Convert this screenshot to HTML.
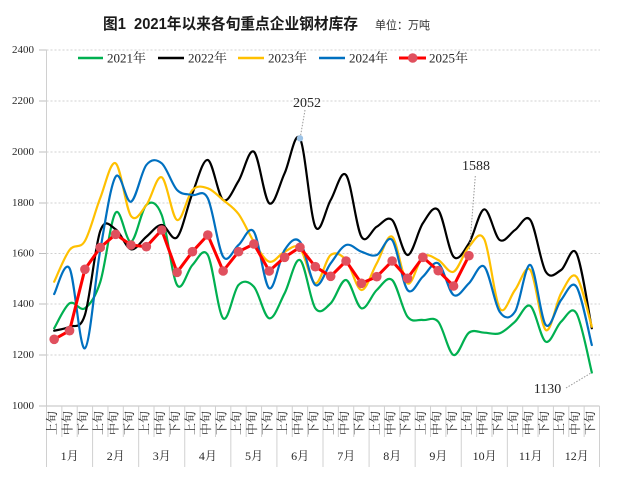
<!DOCTYPE html>
<html><head><meta charset="utf-8">
<style>
html,body{margin:0;padding:0;background:#fff;}
svg{display:block;}
.ax{font-family:"Liberation Serif","Noto Serif CJK SC",serif;fill:#262626;}
</style></head>
<body>
<svg id="c" width="622" height="477" viewBox="0 0 622 477" xmlns="http://www.w3.org/2000/svg">
<rect width="622" height="477" fill="#fff"/>
<g id="grid"></g>
<g id="seps"></g>
<g id="series"></g>

<text x="103" y="29" font-family="Liberation Sans,'Noto Sans CJK SC',sans-serif" font-weight="bold" font-size="15.5" fill="#1a1a1a" style="white-space:pre" textLength="255" lengthAdjust="spacingAndGlyphs">图1  2021年以来各旬重点企业钢材库存</text>
<text x="375" y="29" font-family="Liberation Sans,'Noto Sans CJK SC',sans-serif" font-size="11.5" fill="#333" textLength="55" lengthAdjust="spacingAndGlyphs">单位：万吨</text>

<!-- y labels -->
<g class="ax" font-size="11" text-anchor="end" dominant-baseline="central">
<text x="34" y="50">2400</text>
<text x="34" y="101">2200</text>
<text x="34" y="152">2000</text>
<text x="34" y="203">1800</text>
<text x="34" y="253.5">1600</text>
<text x="34" y="304">1400</text>
<text x="34" y="355">1200</text>
<text x="34" y="406">1000</text>
</g>

<!-- legend -->
<g stroke-width="2.5">
<line x1="78" y1="58" x2="103" y2="58" stroke="#00B050"/>
<line x1="158" y1="58" x2="184" y2="58" stroke="#000"/>
<line x1="238" y1="58" x2="264" y2="58" stroke="#FFC000"/>
<line x1="319" y1="58" x2="345" y2="58" stroke="#0070C0"/>
<line x1="399" y1="58" x2="426" y2="58" stroke="#FF0000" stroke-width="3"/>
</g>
<circle cx="412.7" cy="58" r="4.8" fill="#E0505E"/>
<g class="ax" font-size="13" dominant-baseline="central">
<text x="107" y="58">2021年</text>
<text x="188" y="58">2022年</text>
<text x="268" y="58">2023年</text>
<text x="349" y="58">2024年</text>
<text x="429" y="58">2025年</text>
</g>

<!-- annotations -->
<g class="ax" font-size="14" text-anchor="middle">
<text x="307" y="107">2052</text>
<text x="476" y="170">1588</text>
<text x="547.5" y="393">1130</text>
</g>
<g stroke="#999" stroke-width="1" stroke-dasharray="1.5,1.5" fill="none">
<line x1="305" y1="110" x2="300.5" y2="136"/>
<line x1="475.3" y1="176" x2="469.5" y2="250"/>
<line x1="566" y1="388" x2="591" y2="373"/>
</g>

<!-- category labels -->
<g class="ax" font-size="12" text-anchor="middle" dominant-baseline="central" fill="#333">
<text transform="translate(52.2,423) rotate(-90)">上旬</text>
<text transform="translate(67.6,423) rotate(-90)">中旬</text>
<text transform="translate(82.9,423) rotate(-90)">下旬</text>
<text transform="translate(98.3,423) rotate(-90)">上旬</text>
<text transform="translate(113.7,423) rotate(-90)">中旬</text>
<text transform="translate(129.0,423) rotate(-90)">下旬</text>
<text transform="translate(144.4,423) rotate(-90)">上旬</text>
<text transform="translate(159.8,423) rotate(-90)">中旬</text>
<text transform="translate(175.2,423) rotate(-90)">下旬</text>
<text transform="translate(190.5,423) rotate(-90)">上旬</text>
<text transform="translate(205.9,423) rotate(-90)">中旬</text>
<text transform="translate(221.3,423) rotate(-90)">下旬</text>
<text transform="translate(236.6,423) rotate(-90)">上旬</text>
<text transform="translate(252.0,423) rotate(-90)">中旬</text>
<text transform="translate(267.4,423) rotate(-90)">下旬</text>
<text transform="translate(282.7,423) rotate(-90)">上旬</text>
<text transform="translate(298.1,423) rotate(-90)">中旬</text>
<text transform="translate(313.5,423) rotate(-90)">下旬</text>
<text transform="translate(328.9,423) rotate(-90)">上旬</text>
<text transform="translate(344.2,423) rotate(-90)">中旬</text>
<text transform="translate(359.6,423) rotate(-90)">下旬</text>
<text transform="translate(375.0,423) rotate(-90)">上旬</text>
<text transform="translate(390.3,423) rotate(-90)">中旬</text>
<text transform="translate(405.7,423) rotate(-90)">下旬</text>
<text transform="translate(421.1,423) rotate(-90)">上旬</text>
<text transform="translate(436.4,423) rotate(-90)">中旬</text>
<text transform="translate(451.8,423) rotate(-90)">下旬</text>
<text transform="translate(467.2,423) rotate(-90)">上旬</text>
<text transform="translate(482.6,423) rotate(-90)">中旬</text>
<text transform="translate(497.9,423) rotate(-90)">下旬</text>
<text transform="translate(513.3,423) rotate(-90)">上旬</text>
<text transform="translate(528.7,423) rotate(-90)">中旬</text>
<text transform="translate(544.0,423) rotate(-90)">下旬</text>
<text transform="translate(559.4,423) rotate(-90)">上旬</text>
<text transform="translate(574.8,423) rotate(-90)">中旬</text>
<text transform="translate(590.1,423) rotate(-90)">下旬</text>
</g>

<!-- month labels -->
<g class="ax" font-size="12" text-anchor="middle" dominant-baseline="central" fill="#333">
<text x="69.6" y="456">1月</text>
<text x="115.7" y="456">2月</text>
<text x="161.8" y="456">3月</text>
<text x="207.9" y="456">4月</text>
<text x="254.0" y="456">5月</text>
<text x="300.1" y="456">6月</text>
<text x="346.2" y="456">7月</text>
<text x="392.3" y="456">8月</text>
<text x="438.4" y="456">9月</text>
<text x="484.6" y="456">10月</text>
<text x="530.7" y="456">11月</text>
<text x="576.8" y="456">12月</text>
</g>
</svg>
<script>
(function(){
var NS="http://www.w3.org/2000/svg";
function el(parent,tag,attrs){var e=document.createElementNS(NS,tag);for(var k in attrs)e.setAttribute(k,attrs[k]);parent.appendChild(e);return e;}
var L=46.5,W=553,step=W/36;
function X(i){return L+step*(i+0.5);}
var grid=document.getElementById("grid");
var gy=[50,101,152,203,253.5,304,355];
gy.forEach(function(y){
  el(grid,"line",{x1:L,y1:y,x2:600,y2:y,stroke:"#d0d0d0","stroke-width":1,"stroke-dasharray":"2,2"});
});
[50,101,152,203,253.5,304,355,406].forEach(function(y){
  el(grid,"line",{x1:39,y1:y,x2:L,y2:y,stroke:"#bfbfbf","stroke-width":1});
});
el(grid,"line",{x1:L,y1:50,x2:L,y2:406,stroke:"#d0d0d0","stroke-width":1});
var seps=document.getElementById("seps");
el(seps,"line",{x1:L,y1:406,x2:L+W,y2:406,stroke:"#bfbfbf","stroke-width":1});
for(var k=0;k<=36;k++){
  var x=L+step*k;
  var y2=(k%3===0)?467:437;
  el(seps,"line",{x1:x,y1:406,x2:x,y2:y2,stroke:"#d0d0d0","stroke-width":1});
}
function smooth(ys){
  var p=ys.map(function(y,i){return [X(i),y];});
  var d="M"+p[0][0].toFixed(2)+","+p[0][1].toFixed(2);
  for(var i=0;i<p.length-1;i++){
    var p0=p[i-1]||p[i],p1=p[i],p2=p[i+1],p3=p[i+2]||p[i+1];
    var c1x=p1[0]+(p2[0]-p0[0])/6,c1y=p1[1]+(p2[1]-p0[1])/6;
    var c2x=p2[0]-(p3[0]-p1[0])/6,c2y=p2[1]-(p3[1]-p1[1])/6;
    d+=" C"+c1x.toFixed(2)+","+c1y.toFixed(2)+" "+c2x.toFixed(2)+","+c2y.toFixed(2)+" "+p2[0].toFixed(2)+","+p2[1].toFixed(2);
  }
  return d;
}
var green=[328.3,303.3,308.3,282,212.7,241.7,205,215,285,265,255,318.3,285,286.7,318.3,293.3,260,308.3,303.3,280,308.3,290,280,316.7,320,321.7,355,332.7,332.7,333.3,321.7,306,341.7,321.7,313.3,372.5];
var black=[330.7,326.7,315,231,229.3,249.3,236.7,225,237.3,193.3,160,200,181,151.7,203.3,173.3,138.3,226.7,200,175,236.7,226.7,220,255,223.3,210,256.7,243.3,209.3,240,230,220,271.7,270,253.3,328.3];
var yellow=[281.7,250,241,198,163.3,216,205,177.3,220,190,188.3,200,214,241.7,261.7,251.7,248.3,283.3,255,260,290,263.3,236.7,283.3,256.7,260,271.7,246.7,239.3,308.3,290,270,330,293.3,276.7,326.7];
var blue=[294,268.3,348.3,250,176.7,201.7,165,163.3,190,195,198.3,256.7,245,231.7,288.3,250,241.7,285,263.3,245,251.7,255,240,290,276.7,263.3,295,283.3,266.7,311.7,311.7,265,325,300,286.7,345];
var red=[339.3,330.7,269.3,247.5,234.3,245,246.7,230,272.3,251.7,235,271,251.7,244,271,257.3,247.3,266.7,276.3,261,283.3,276.7,261,278.3,257.3,270.7,286,255.7];
var s=document.getElementById("series");
[[green,"#00B050"],[black,"#000000"],[yellow,"#FFC000"],[blue,"#0070C0"]].forEach(function(a){
  el(s,"path",{d:smooth(a[0]),fill:"none",stroke:a[1],"stroke-width":2.2,"stroke-linejoin":"round","stroke-linecap":"round"});
});
el(s,"circle",{cx:X(16),cy:138.3,r:3.2,fill:"#9DC3E6"});
var pd=red.map(function(y,i){return (i?"L":"M")+X(i).toFixed(2)+","+y;}).join(" ");
el(s,"path",{d:pd,fill:"none",stroke:"#FF0000","stroke-width":3,"stroke-linejoin":"round"});
red.forEach(function(y,i){el(s,"circle",{cx:X(i),cy:y,r:4.8,fill:"#E0505E"});});
})();
</script>
</body></html>
